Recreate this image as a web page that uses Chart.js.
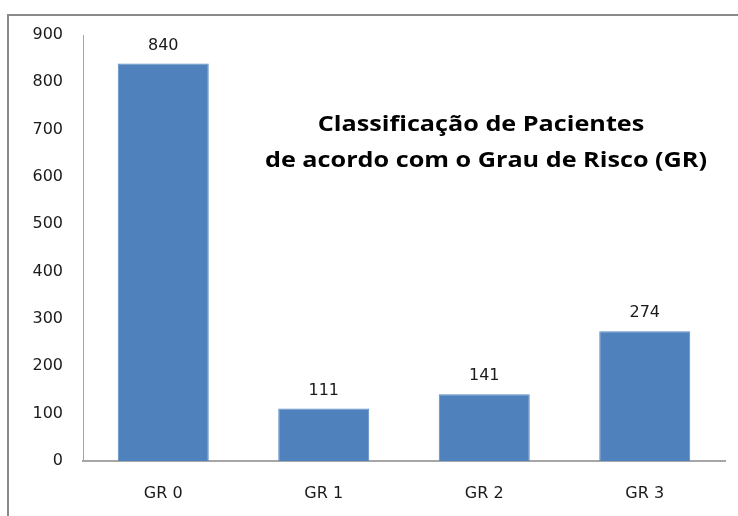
<!DOCTYPE html>
<html>
<head>
<meta charset="utf-8">
<script src="https://cdn.jsdelivr.net/npm/chart.js@4"></script>
<style>
  body { margin: 0; background: #fff; }
  #wrap { position: relative; width: 738px; height: 516px; overflow: hidden; }
  #frame { position: absolute; left: 7px; top: 14px; width: 800px; height: 600px;
           border-left: 2px solid #8a8a8a; border-top: 2px solid #8a8a8a; pointer-events: none; }
</style>
</head>
<body>
<div id="wrap">
  <canvas id="myChart" width="738" height="516"></canvas>
  <div id="frame"></div>
</div>
<script>
// data
const categories = ['GR 0', 'GR 1', 'GR 2', 'GR 3'];
const patients = [840, 111, 141, 274];
const yTicks = [0, 100, 200, 300, 400, 500, 600, 700, 800, 900];
const titleLines = ['Classificação de Pacientes', 'de acordo com o Grau de Risco (GR)'];

const tickFont = { family: 'DejaVu Sans', size: 16 };

// value labels above the bars
const barLabels = {
    id: 'barLabels',
    afterDatasetsDraw(chart) {
        const ctx = chart.ctx;
        const meta = chart.getDatasetMeta(0);
        ctx.save();
        ctx.font = '16px "DejaVu Sans"';
        ctx.fillStyle = '#1a1a1a';
        ctx.textAlign = 'center';
        ctx.textBaseline = 'middle';
        meta.data.forEach((bar, i) => {
            ctx.fillText(patients[i], bar.x, bar.y - 18);
        });
        ctx.restore();
    }
};

// title inside the plot area (stretched a bit wider, like the original)
const innerTitle = {
    id: 'innerTitle',
    afterDraw(chart) {
        const ctx = chart.ctx;
        const sx = 1.2;
        ctx.save();
        ctx.scale(sx, 1);
        ctx.font = 'bold 21px "Open Sans"';
        ctx.fillStyle = '#000';
        ctx.textAlign = 'center';
        ctx.textBaseline = 'middle';
        ctx.fillText(titleLines[0], 481 / sx, 125);
        ctx.fillText(titleLines[1], 486 / sx, 161);
        ctx.restore();
    }
};

const data = {
    labels: categories,
    datasets: [{
        data: patients,
        backgroundColor: '#4F81BD',
        borderColor: '#5A8AC4',
        borderWidth: 1,
        categoryPercentage: 1,
        barPercentage: 0.567
    }]
};

const options = {
    responsive: false,
    animation: false,
    layout: { padding: { top: 35, right: 13, left: 0, bottom: 0 } },
    plugins: {
        legend: { display: false },
        title: { display: false },
        tooltip: { enabled: false }
    },
    scales: {
        x: {
            grid: { display: false, drawTicks: false },
            border: { color: '#a6a6a6', width: 2 },
            ticks: { font: tickFont, color: '#1a1a1a', padding: 23 },
            afterFit(scale) { scale.height = 55; }
        },
        y: {
            min: 0,
            max: 900,
            grid: { display: false, drawTicks: false },
            border: { color: '#a6a6a6', width: 1 },
            afterBuildTicks(scale) { scale.ticks = yTicks.map(v => ({ value: v })); },
            ticks: { font: tickFont, color: '#1a1a1a', padding: 20 },
            afterFit(scale) { scale.width = 83; }
        }
    }
};

const config = {
    type: 'bar',
    data,
    options,
    plugins: [barLabels, innerTitle]
};

const myChart = new Chart(document.getElementById('myChart'), config);
</script>
</body>
</html>
